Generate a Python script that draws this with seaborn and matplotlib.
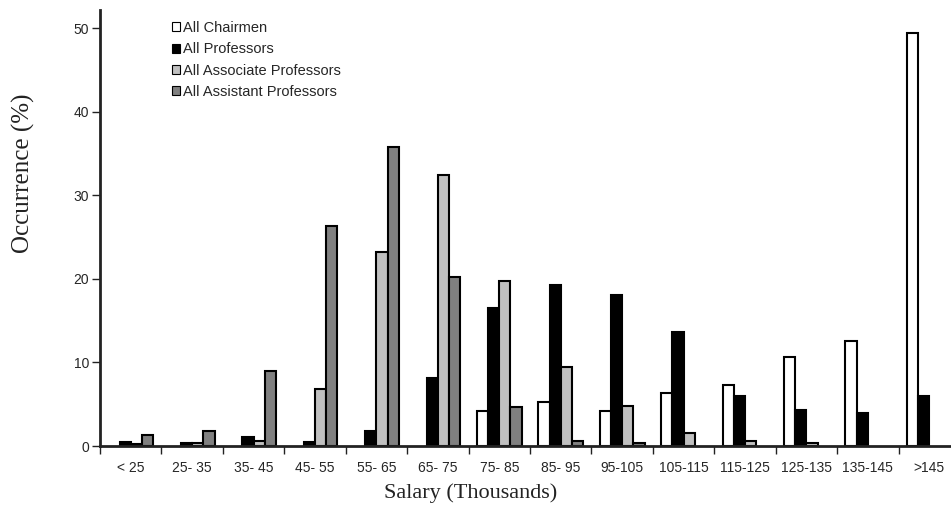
import matplotlib
matplotlib.use("Agg")
import matplotlib.pyplot as plt
import seaborn as sns
import pandas as pd
import numpy as np
from matplotlib.patches import Patch

categories = ["< 25", "25- 35", "35- 45", "45- 55", "55- 65", "65- 75", "75- 85",
              "85- 95", "95-105", "105-115", "115-125", "125-135", "135-145", ">145"]
series = ["All Chairmen", "All Professors", "All Associate Professors", "All Assistant Professors"]
chairmen = [0, 0, 0, 0, 0, 0, 4.2, 5.3, 4.2, 6.3, 7.3, 10.6, 12.6, 49.5]
professors = [0.5, 0.3, 1.1, 0.5, 1.8, 8.2, 16.5, 19.3, 18.1, 13.6, 6.0, 4.3, 4.0, 6.0]
associates = [0.2, 0.3, 0.6, 6.8, 23.2, 32.5, 19.8, 9.5, 4.8, 1.5, 0.6, 0.3, 0, 0]
assistants = [1.3, 1.8, 9.0, 26.3, 35.8, 20.2, 4.7, 0.6, 0.3, 0, 0, 0, 0, 0]
colors = ["#FFFFFF", "#000000", "#C0C0C0", "#808080"]

rows = []
for name, vals in zip(series, [chairmen, professors, associates, assistants]):
    for c, v in zip(categories, vals):
        rows.append({"Salary": c, "Group": name, "Occurrence": v})
df = pd.DataFrame(rows)

sns.set_theme(style="white")
plt.rcParams['font.family'] = ['Liberation Sans', 'DejaVu Sans']

fig = plt.figure(figsize=(9.51, 5.12), dpi=100)
ax = fig.add_axes([100/951, 1 - 446/512, 860/951, 436/512])

sns.barplot(data=df, x="Salary", y="Occurrence", hue="Group", order=categories,
            hue_order=series, palette=colors, width=0.73, edgecolor="black",
            linewidth=1.5, ax=ax, legend=False, saturation=1)

for p in ax.patches:
    if p.get_height() == 0:
        p.set_visible(False)

ax.set_xlim(-0.5, 13.5)
ax.set_ylim(0, 52.2)
ax.set_yticks([0, 10, 20, 30, 40, 50])
ax.tick_params(axis="y", which="major", length=6, width=1, direction="out", left=True,
               labelsize=10, pad=2, color="#222222")
ax.tick_params(axis="x", which="major", length=0, labelsize=10, pad=11)
ax.set_xticks(np.arange(-0.5, 13.6, 1), minor=True)
ax.tick_params(axis="x", which="minor", length=6, width=1, direction="out", bottom=True,
               color="#222222")
for s in ["top", "right"]:
    ax.spines[s].set_visible(False)
for s in ["left", "bottom"]:
    ax.spines[s].set_color("#222222")
    ax.spines[s].set_linewidth(2)

ax.set_xlabel("")
ax.set_ylabel("")
fig.text(471/951, 1 - 493/512, "Salary (Thousands)", family=["Liberation Serif"],
         fontsize=16, ha="center", va="center", color="#222222")
fig.text(23/951, 1 - 173/512, "Occurrence (%)", family=["Liberation Serif"],
         fontsize=18, ha="center", va="center", rotation=90, color="#222222")

handles = [Patch(facecolor=c, edgecolor="black", linewidth=0.8) for c in colors]
fig.legend(handles, series, loc="upper left", bbox_to_anchor=(172/951, 1 - 21/512),
           frameon=False, fontsize=10.5, handlelength=0.55, handleheight=0.6,
           handletextpad=0.2, labelspacing=0.5, borderaxespad=0, borderpad=0)

fig.savefig("out.png", dpi=100)
